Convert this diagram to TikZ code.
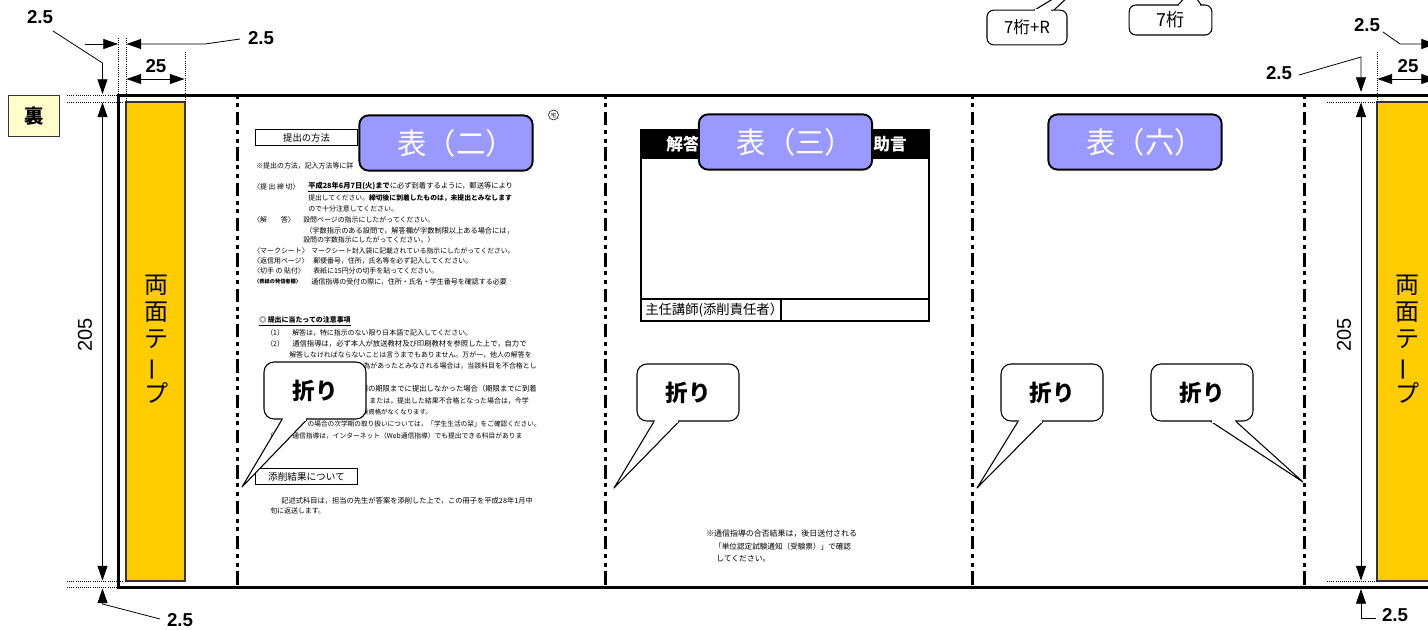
\documentclass[tikz,border=0pt]{standalone}
\usepackage{fontspec}
\setmainfont{Noto Sans CJK JP}
\newfontfamily\numfont{Liberation Sans}
\usetikzlibrary{arrows.meta}
\tikzset{
	dimline/.style={{Triangle[length=11pt,width=7.5pt]}-{Triangle[length=11pt,width=7.5pt]},semithick},
	dimhead/.style={-{Triangle[length=11pt,width=7.5pt]},semithick},
	helpline/.style={densely dotted,semithick},
	foldline/.style={line width=2.25pt,dash pattern=on 10pt off 3.5pt on 3pt off 3.5pt on 3pt off 3.5pt,dash phase=15.25pt},
	tape/.style={fill=tapeyellow,draw=black!80,line width=1.1pt},
	sizelabel/.style={font=\numfont\bfseries\fontsize{14pt}{15pt}\selectfont,inner sep=0pt},
	cover/.style={draw,line width=1.4pt,rounded corners=7pt,fill=coverblue,text=white,minimum width=130pt,minimum height=41.5pt,inner sep=0pt,font=\fontsize{22pt}{24pt}\selectfont},
	foldnote/.style={draw,thick,rounded corners=7.5pt,fill=white,minimum width=76.5pt,minimum height=42.75pt,inner sep=0pt,font=\bfseries\fontsize{17pt}{20pt}\selectfont},
	foldtail/.style={draw,thick,fill=white,line join=round},
	digitnote/.style={draw,thick,rounded corners=5pt,fill=white,inner sep=0pt,font=\fontsize{12.5pt}{14pt}\selectfont},
	line/.style={anchor=west,inner sep=0pt,font=\fontsize{5.2pt}{6pt}\selectfont},
	endline/.style={line,anchor=east},
	headbox/.style={draw,thick,fill=white,minimum width=77pt,minimum height=11.5pt,inner sep=0pt,font=\fontsize{7pt}{8pt}\selectfont}
}
\definecolor{tapeyellow}{HTML}{FFCC00}
\definecolor{coverblue}{HTML}{9999FF}
\definecolor{backyellow}{HTML}{FFFFCC}
\newcommand{\linesize}[1]{\fontsize{#1}{6pt}\selectfont}
\begin{document}
\begin{tikzpicture}[x=0.75pt,y=-0.75pt]
	\useasboundingbox (0,0) rectangle (1428,629);
	% tapes
	\draw [tape] (126,102) rectangle (185,581);
	\draw [tape] (1434,102) -- (1377,102) -- (1377,581) -- (1434,581);
	\node [align=center,inner sep=0pt,font=\fontsize{18pt}{20.5pt}\selectfont] (tapeleft) at (156,339) {両\\面\\テ\\\rotatebox[origin=c]{90}{ー}\\プ};
	\node [align=center,inner sep=0pt,font=\fontsize{18pt}{20.5pt}\selectfont] (taperight) at (1407,339) {両\\面\\テ\\\rotatebox[origin=c]{90}{ー}\\プ};
	% sheet and folds
	\draw [line width=2.2pt] (1434,95.5) -- (118.5,95.5) -- (118.5,587.5) -- (1434,587.5);
	\draw [foldline] (237,97) -- (237,587);
	\draw [foldline] (605,97) -- (605,587);
	\draw [foldline] (972,97) -- (972,587);
	\draw [foldline] (1304,97) -- (1304,587);
	% dotted guides
	\draw [helpline] (67,95) -- (117,95);
	\draw [helpline] (67,102) -- (125,102);
	\draw [helpline] (67,581) -- (125,581);
	\draw [helpline] (67,587.5) -- (117,587.5);
	\draw [helpline] (118.5,38) -- (118.5,94);
	\draw [helpline] (126,38) -- (126,102);
	\draw [helpline] (185,52) -- (185,102);
	\draw [helpline] (1327,102) -- (1377,102);
	\draw [helpline] (1327,581) -- (1377,581);
	\draw [helpline] (1377,52) -- (1377,102);
	% left dimensions
	\node [sizelabel] (topleft) at (40,17) {2.5};
	\coordinate (topleftbend) at (102.5,63);
	\coordinate (topleftend) at (102.5,94);
	\draw [dimhead] (53,31) -- (topleftbend) -- (topleftend);
	\draw [dimhead] (85,44) -- (118,44);
	\node [sizelabel] (gapleft) at (261,38) {2.5};
	\draw [dimhead] (240,39) -- (205,44) -- (126.5,44);
	\draw [dimline] (126.5,79) -- (184.5,79);
	\node [sizelabel] (tapewidth) at (156,66) {25};
	\draw [dimline] (102.5,102.5) -- (102.5,580.5);
	\node [sizelabel,font=\numfont\fontsize{15pt}{16pt}\selectfont,rotate=90] (heightleft) at (85,335) {205};
	\draw [dimhead] (160,619) -- (102.5,604) -- (102.5,588.5);
	\node [sizelabel] (bottomleft) at (180,620.5) {2.5};
	% right dimensions
	\node [sizelabel] (gapright) at (1279,73) {2.5};
	\draw [dimhead] (1299,75) -- (1361,57) -- (1361,92);
	\node [sizelabel] (topright) at (1367,25) {2.5};
	\draw [dimhead] (1383,32) -- (1400,44) -- (1436,44);
	\draw [dimline] (1377.5,79) -- (1436,79);
	\node [sizelabel] (tapewidthright) at (1408,66) {25};
	\draw [dimline] (1361,102.5) -- (1361,580.5);
	\node [sizelabel,font=\numfont\fontsize{15pt}{16pt}\selectfont,rotate=90] (heightright) at (1344,335) {205};
	\draw [dimhead] (1376,618) -- (1361,618) -- (1361,589);
	\node [sizelabel] (bottomright) at (1395,615) {2.5};
	% back mark
	\node [draw=black!80,line width=1.2pt,fill=backyellow,minimum width=38pt,minimum height=31pt,inner sep=0pt,font=\bfseries\fontsize{14.5pt}{16pt}\selectfont] (back) at (34,116) {\raisebox{1pt}{裏}};
	% digit notes
	\draw [thick,fill=white] (1033,11) -- (1089,-23) -- (1053,11);
	\node [digitnote,minimum width=60pt,minimum height=26pt] (sevenr) at (1027,27.5) {7桁+R};
	\draw [thick,fill=white] (1177,6) -- (1191,-9) -- (1202,6);
	\node [digitnote,minimum width=62pt,minimum height=22.5pt,font=\fontsize{13.5pt}{14pt}\selectfont] (seven) at (1170.5,20) {7桁};
	\draw [white,line width=2pt] (1035,10) -- (1051,10);
	\draw [white,line width=2pt] (1179,5) -- (1200,5);
	% page two
	\node [headbox] (method) at (306.5,137.5) {提出の方法};
	\node [circle,draw,inner sep=0pt,minimum size=7.5pt,font=\fontsize{4pt}{4pt}\selectfont] (seal) at (553.5,115) {宅};
	\node [line] (l1) at (256,166) {※提出の方法，記入方法等に詳};
	\node [line] (l2a) at (253,187) {〈提 出 締 切〉};
	\node [line,font=\linesize{5.45pt}] (l2b) at (308,187) {\bfseries\underline{平成28年6月7日(火)まで}\mdseries に必ず到着するように，郵送等により};
	\node [line,font=\linesize{5.1pt}] (l3) at (308,198) {提出してください。\bfseries 締切後に到着したものは，未提出とみなします};
	\node [line] (l4) at (308,209) {ので十分注意してください。};
	\node [line] (l5a) at (253,220) {〈解　　答〉};
	\node [line] (l5b) at (303,220) {設問ページの指示にしたがってください。};
	\node [line,font=\linesize{5.4pt}] (l6) at (305,231) {（字数指示のある設問で，解答欄が字数制限以上ある場合には，};
	\node [line] (l7) at (303,240) {設問の字数指示にしたがってください。）};
	\node [line] (l8a) at (253,251) {〈マークシート〉};
	\node [line,font=\linesize{5.1pt}] (l8b) at (311,251) {マークシート封入袋に記載されている指示にしたがってください。};
	\node [line] (l9a) at (253,261) {〈返信用ページ〉};
	\node [line] (l9b) at (313,261) {郵便番号，住所，氏名等を必ず記入してください。};
	\node [line] (l10a) at (253,271) {〈切手 の 貼付〉};
	\node [line] (l10b) at (313,271) {表紙に15円分の切手を貼ってください。};
	\node [line,font=\bfseries\fontsize{3.9pt}{5pt}\selectfont] (l11a) at (254,282) {〈表紙の発信者欄〉};
	\node [line,font=\linesize{5.25pt}] (l11b) at (311,282) {通信指導の受付の際に，住所・氏名・学生番号を確認する必要};
	\node [line] (n0) at (259,321) {\bfseries\underline{◎ 提出に当たっての注意事項}};
	\node [line] (n1a) at (266,333) {（1）};
	\node [line] (n1b) at (292,333) {解答は，特に指示のない限り日本語で記入してください。};
	\node [line] (n2a) at (266,344) {（2）};
	\node [line,font=\linesize{5.5pt}] (n2b) at (292,344) {通信指導は，必ず本人が放送教材及び印刷教材を参照した上で，自力で};
	\node [line] (n3) at (289,355) {解答しなければならないことは言うまでもありません。万が一，他人の解答を};
	\node [endline] (n4) at (537,366) {為があったとみなされる場合は，当該科目を不合格とし};
	\node [endline,font=\linesize{5.5pt}] (n5) at (537,389) {期の期限までに提出しなかった場合（期限までに到着};
	\node [endline] (n6) at (529,401) {または，提出した結果不合格となった場合は，今学};
	\node [endline,font=\linesize{4.8pt}] (n7) at (432,412) {験資格がなくなります。};
	\node [endline,font=\linesize{5pt}] (n8) at (541,424) {の場合の次学期の取り扱いについては，「学生生活の栞」をご確認ください。};
	\node [line] (n9a) at (266,436) {（};
	\node [line,font=\linesize{5.07pt}] (n9b) at (292,436) {通信指導は，インターネット（Web通信指導）でも提出できる科目がありま};
	\node [headbox,font=\fontsize{7.2pt}{8pt}\selectfont] (result) at (306.5,476.5) {添削結果について};
	\node [line,font=\linesize{5.45pt}] (r1) at (281,501) {記述式科目は，担当の先生が答案を添削した上で，この冊子を平成28年1月中};
	\node [line] (r2) at (270,511) {旬に返送します。};
	% page three
	\draw [thick] (641,130) rectangle (929,321);
	\fill (641,129.5) rectangle (929,159);
	\draw [thick] (641,299) -- (929,299);
	\draw [thick] (781,299) -- (781,321);
	\node [text=white,font=\bfseries\fontsize{12.5pt}{14pt}\selectfont,inner sep=0pt] (adviceleft) at (683,144) {解答};
	\node [text=white,font=\bfseries\fontsize{12.5pt}{14pt}\selectfont,inner sep=0pt] (adviceright) at (890,144) {助言};
	\node [line,font=\fontsize{10pt}{11pt}\selectfont] (teacher) at (645,310) {主任講師(添削責任者）};
	\node [line,font=\fontsize{5.95pt}{7pt}\selectfont] (pass1) at (706,534) {※通信指導の合否結果は，後日送付される};
	\node [line,font=\fontsize{5.7pt}{7pt}\selectfont] (pass2) at (714,547) {「単位認定試験通知（受験票）」で確認};
	\node [line,font=\fontsize{5.85pt}{7pt}\selectfont] (pass3) at (716,559) {してください。};
	% cover titles
	\node [cover] (hyo2) at (446,143) {\hspace*{15pt}表（二）};
	\node [cover] (hyo3) at (785.5,142) {\hspace*{15pt}表（三）};
	\node [cover] (hyo6) at (1135,142) {\hspace*{15pt}表（六）};
	% fold notes
	\node [foldnote] (fold1) at (315,390.5) {折り};
	\coordinate (tip1) at (242,487);
	\draw [foldtail] ([xshift=-24.75pt]fold1.south) -- (tip1) -- ([xshift=-6pt]fold1.south);
	\draw [white,line width=1.6pt] ([xshift=-24pt]fold1.south) -- ([xshift=-6.75pt]fold1.south);
	\node [foldnote] (fold2) at (688,392.5) {折り};
	\coordinate (tip2) at (614,488);
	\draw [foldtail] ([xshift=-25.5pt]fold2.south) -- (tip2) -- ([xshift=-6.75pt]fold2.south);
	\draw [white,line width=1.6pt] ([xshift=-24.75pt]fold2.south) -- ([xshift=-7.5pt]fold2.south);
	\node [foldnote] (fold3) at (1052,392.5) {折り};
	\coordinate (tip3) at (977,488);
	\draw [foldtail] ([xshift=-25.5pt]fold3.south) -- (tip3) -- ([xshift=-6.75pt]fold3.south);
	\draw [white,line width=1.6pt] ([xshift=-24.75pt]fold3.south) -- ([xshift=-7.5pt]fold3.south);
	\node [foldnote] (fold4) at (1202,392.5) {折り};
	\coordinate (tip4) at (1303,482);
	\draw [foldtail] ([xshift=6.75pt]fold4.south) -- (tip4) -- ([xshift=25.5pt]fold4.south);
	\draw [white,line width=1.6pt] ([xshift=7.5pt]fold4.south) -- ([xshift=24.75pt]fold4.south);
\end{tikzpicture}
\end{document}
